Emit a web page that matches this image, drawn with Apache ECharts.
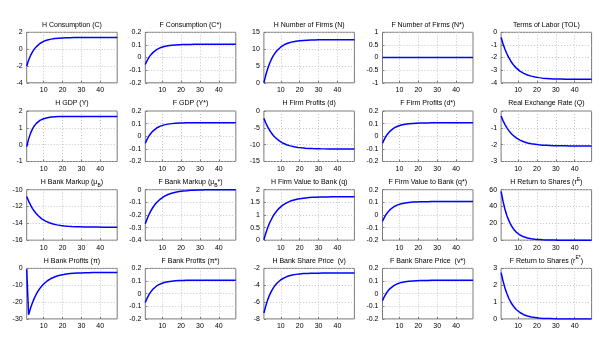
<!DOCTYPE html>
<html>
<head>
<meta charset="utf-8">
<script src="https://cdn.jsdelivr.net/npm/echarts@6/dist/echarts.min.js"></script>
<style>html,body{margin:0;padding:0;background:#fff}#c{width:600px;height:358px}</style>
</head>
<body>
<div id="c"></div>
<script>
const periods = [1,2,3,4,5,6,7,8,9,10,11,12,13,14,15,16,17,18,19,20,21,22,23,24,25,26,27,28,29,30,31,32,33,34,35,36,37,38,39,40,41,42,43,44,45,46,47,48,49];

const hC = [-2.00,-1.32,-0.78,-0.35,0.00,0.27,0.49,0.67,0.81,0.93,1.02,1.09,1.15,1.19,1.23,1.26,1.29,1.30,1.32,1.33,1.34,1.35,1.36,1.36,1.36,1.37,1.37,1.37,1.37,1.37,1.38,1.38,1.38,1.38,1.38,1.38,1.38,1.38,1.38,1.38,1.38,1.38,1.38,1.38,1.38,1.38,1.38,1.38,1.38];
const fC = [-0.055,-0.023,0.003,0.023,0.039,0.053,0.063,0.071,0.078,0.084,0.088,0.091,0.094,0.096,0.098,0.099,0.100,0.101,0.102,0.103,0.103,0.104,0.104,0.104,0.104,0.105,0.105,0.105,0.105,0.105,0.105,0.105,0.105,0.105,0.105,0.105,0.105,0.105,0.105,0.105,0.105,0.105,0.105,0.105,0.105,0.105,0.105,0.105,0.105];
const hN = [0,2.30,4.19,5.74,7.01,8.05,8.91,9.61,10.18,10.65,11.04,11.36,11.62,11.83,12.01,12.15,12.26,12.36,12.44,12.51,12.56,12.60,12.64,12.67,12.69,12.71,12.73,12.74,12.75,12.76,12.77,12.77,12.78,12.78,12.79,12.79,12.8,12.8,12.8,12.8,12.8,12.8,12.8,12.8,12.8,12.8,12.8,12.8,12.8];
const fN = [0,0,0,0,0,0,0,0,0,0,0,0,0,0,0,0,0,0,0,0,0,0,0,0,0,0,0,0,0,0,0,0,0,0,0,0,0,0,0,0,0,0,0,0,0,0,0,0,0];
const tol = [-0.40,-0.90,-1.32,-1.68,-1.99,-2.25,-2.47,-2.66,-2.82,-2.95,-3.07,-3.16,-3.25,-3.32,-3.38,-3.43,-3.47,-3.51,-3.54,-3.57,-3.59,-3.61,-3.63,-3.64,-3.65,-3.66,-3.67,-3.68,-3.69,-3.69,-3.70,-3.70,-3.70,-3.70,-3.71,-3.71,-3.71,-3.71,-3.71,-3.71,-3.72,-3.72,-3.72,-3.72,-3.72,-3.72,-3.72,-3.72,-3.72];
const hY = [-0.12,0.33,0.67,0.92,1.11,1.25,1.36,1.44,1.50,1.54,1.58,1.60,1.62,1.64,1.65,1.66,1.66,1.67,1.67,1.67,1.67,1.68,1.68,1.68,1.68,1.68,1.68,1.68,1.68,1.68,1.68,1.68,1.68,1.68,1.68,1.68,1.68,1.68,1.68,1.68,1.68,1.68,1.68,1.68,1.68,1.68,1.68,1.68,1.68];
const fY = [-0.055,-0.023,0.004,0.024,0.041,0.054,0.065,0.073,0.080,0.085,0.090,0.093,0.096,0.098,0.100,0.101,0.102,0.103,0.104,0.105,0.105,0.106,0.106,0.106,0.106,0.107,0.107,0.107,0.107,0.107,0.107,0.107,0.107,0.107,0.107,0.107,0.107,0.107,0.107,0.107,0.107,0.107,0.107,0.107,0.107,0.107,0.107,0.107,0.107];
const hD = [-2.20,-3.57,-4.73,-5.71,-6.55,-7.26,-7.87,-8.38,-8.82,-9.19,-9.51,-9.78,-10.01,-10.20,-10.36,-10.50,-10.62,-10.73,-10.81,-10.89,-10.95,-11.00,-11.05,-11.08,-11.12,-11.14,-11.17,-11.19,-11.20,-11.22,-11.23,-11.24,-11.25,-11.26,-11.26,-11.27,-11.27,-11.28,-11.28,-11.28,-11.29,-11.29,-11.29,-11.29,-11.30,-11.30,-11.30,-11.30,-11.30];
const fD = [-0.055,-0.023,0.003,0.024,0.040,0.053,0.064,0.072,0.079,0.084,0.089,0.092,0.095,0.097,0.099,0.100,0.101,0.102,0.103,0.104,0.104,0.105,0.105,0.105,0.105,0.106,0.106,0.106,0.106,0.106,0.106,0.106,0.106,0.106,0.106,0.106,0.106,0.106,0.106,0.106,0.106,0.106,0.106,0.106,0.106,0.106,0.106,0.106,0.106];
const rer = [-0.30,-0.57,-0.79,-0.99,-1.15,-1.29,-1.41,-1.51,-1.60,-1.67,-1.73,-1.78,-1.83,-1.86,-1.90,-1.92,-1.95,-1.97,-1.98,-2.00,-2.01,-2.02,-2.03,-2.04,-2.04,-2.05,-2.05,-2.06,-2.06,-2.06,-2.07,-2.07,-2.07,-2.07,-2.07,-2.08,-2.08,-2.08,-2.08,-2.08,-2.08,-2.08,-2.08,-2.08,-2.08,-2.08,-2.08,-2.08,-2.08];
const hMu = [-10.80,-11.35,-11.81,-12.21,-12.54,-12.83,-13.07,-13.28,-13.46,-13.60,-13.73,-13.84,-13.93,-14.01,-14.07,-14.13,-14.18,-14.22,-14.25,-14.28,-14.31,-14.33,-14.35,-14.36,-14.38,-14.39,-14.40,-14.40,-14.41,-14.42,-14.42,-14.43,-14.43,-14.43,-14.44,-14.44,-14.44,-14.44,-14.44,-14.45,-14.45,-14.45,-14.45,-14.45,-14.45,-14.45,-14.45,-14.45,-14.45];
const fMu = [-0.270,-0.230,-0.195,-0.166,-0.141,-0.120,-0.102,-0.087,-0.074,-0.063,-0.053,-0.045,-0.038,-0.033,-0.028,-0.024,-0.020,-0.017,-0.014,-0.012,-0.010,-0.009,-0.008,-0.006,-0.005,-0.005,-0.004,-0.003,-0.003,-0.002,-0.002,-0.002,-0.001,-0.001,-0.001,0,0,0,0,0,0,0,0,0,0,0,0,0,0];
const hQ = [0.02,0.28,0.49,0.68,0.83,0.97,1.08,1.18,1.26,1.33,1.39,1.44,1.48,1.51,1.55,1.57,1.59,1.61,1.63,1.64,1.65,1.66,1.67,1.68,1.69,1.69,1.70,1.70,1.70,1.70,1.71,1.71,1.71,1.71,1.71,1.71,1.72,1.72,1.72,1.72,1.72,1.72,1.72,1.72,1.72,1.72,1.72,1.72,1.72];
const fQ = [-0.050,-0.019,0.006,0.026,0.042,0.055,0.065,0.073,0.080,0.085,0.089,0.093,0.095,0.097,0.099,0.100,0.102,0.102,0.103,0.104,0.104,0.105,0.105,0.105,0.105,0.106,0.106,0.106,0.106,0.106,0.106,0.106,0.106,0.106,0.106,0.106,0.106,0.106,0.106,0.106,0.106,0.106,0.106,0.106,0.106,0.106,0.106,0.106,0.106];
const hRE = [58.0,46.4,37.1,29.7,23.8,19.0,15.2,12.2,9.7,7.8,6.2,5.0,4.0,3.2,2.6,2.0,1.6,1.3,1.0,0.8,0.7,0.5,0.4,0.3,0.3,0.2,0.2,0.1,0.1,0.1,0,0,0,0,0,0,0,0,0,0,0,0,0,0,0,0,0,0,0];
const hPi = [-0.5,-27.5,-23.74,-20.53,-17.81,-15.50,-13.54,-11.87,-10.45,-9.24,-8.21,-7.34,-6.60,-5.97,-5.43,-4.98,-4.59,-4.26,-3.98,-3.75,-3.54,-3.37,-3.23,-3.10,-3.00,-2.91,-2.83,-2.77,-2.71,-2.67,-2.63,-2.59,-2.56,-2.54,-2.52,-2.50,-2.49,-2.47,-2.46,-2.45,-2.45,-2.44,-2.44,-2.43,-2.43,-2.42,-2.42,-2.42,-2.41];
const fPi = [-0.070,-0.035,-0.006,0.016,0.035,0.049,0.061,0.070,0.077,0.083,0.088,0.092,0.095,0.097,0.099,0.101,0.102,0.103,0.104,0.104,0.105,0.105,0.106,0.106,0.106,0.107,0.107,0.107,0.107,0.107,0.107,0.107,0.107,0.107,0.107,0.107,0.107,0.107,0.107,0.107,0.107,0.107,0.107,0.107,0.107,0.107,0.107,0.107,0.107];
const hV = [-7.30,-6.45,-5.74,-5.17,-4.70,-4.31,-3.99,-3.73,-3.52,-3.35,-3.20,-3.09,-2.99,-2.91,-2.85,-2.79,-2.75,-2.71,-2.68,-2.66,-2.64,-2.62,-2.61,-2.60,-2.59,-2.58,-2.58,-2.57,-2.57,-2.57,-2.56,-2.56,-2.56,-2.56,-2.56,-2.55,-2.55,-2.55,-2.55,-2.55,-2.55,-2.55,-2.55,-2.55,-2.55,-2.55,-2.55,-2.55,-2.55];
const fV = [-0.055,-0.023,0.003,0.024,0.040,0.053,0.064,0.072,0.079,0.084,0.089,0.092,0.095,0.097,0.099,0.100,0.101,0.102,0.103,0.104,0.104,0.105,0.105,0.105,0.105,0.106,0.106,0.106,0.106,0.106,0.106,0.106,0.106,0.106,0.106,0.106,0.106,0.106,0.106,0.106,0.106,0.106,0.106,0.106,0.106,0.106,0.106,0.106,0.106];
const fRE = [2.75,2.26,1.85,1.52,1.24,1.02,0.84,0.69,0.56,0.46,0.38,0.31,0.25,0.21,0.17,0.14,0.11,0.09,0.08,0.06,0.05,0.04,0.03,0.03,0.02,0.02,0.02,0.01,0.01,0.01,0,0,0,0,0,0,0,0,0,0,0,0,0,0,0,0,0,0,0];

const titles = [
  'H Consumption (C)', 'F Consumption (C*)', 'H Number of Firms (N)', 'F Number of Firms (N*)', 'Terms of Labor (TOL)',
  'H GDP (Y)', 'F GDP (Y*)', 'H Firm Profits (d)', 'F Firm Profits (d*)', 'Real Exchange Rate (Q)',
  'H Bank Markup (μ{sub|B})', 'F Bank Markup (μ{sub|B}*)', 'H Firm Value to Bank (q)', 'F Firm Value to Bank (q*)', 'H Return to Shares (r{sup|E})',
  'H Bank Profits (π)', 'F Bank Profits (π*)', 'H Bank Share Price  (v)', 'F Bank Share Price  (v*)', 'F Return to Shares (r{sup|E*})'
];
const seriesData = [hC, fC, hN, fN, tol, hY, fY, hD, fD, rer, hMu, fMu, hQ, fQ, hRE, hPi, fPi, hV, fV, fRE];
// [min, max, interval]
const yRanges = [
  [-4, 2, 2], [-0.2, 0.2, 0.1], [0, 15, 5], [-1, 1, 0.5], [-4, 0, 1],
  [-1, 2, 1], [-0.2, 0.2, 0.1], [-15, 0, 5], [-0.2, 0.2, 0.1], [-3, 0, 1],
  [-16, -10, 2], [-0.4, 0, 0.1], [0, 2, 0.5], [-0.2, 0.2, 0.1], [0, 60, 20],
  [-30, 0, 10], [-0.2, 0.2, 0.1], [-8, -2, 2], [-0.2, 0.2, 0.1], [0, 3, 1]
];
const xTickEvery = 10;

const FONT = '"Liberation Sans", Arial, Helvetica, sans-serif';
const colLeft0 = 26.7, colStep = 118.6, plotW = 90.5;
const rowTop0 = 32.3, rowStep = 78.7, plotH = 50.5;
const frame = '#7a7a7a';
const tickFn = (i, v) => Number(v) % xTickEvery === 0;

const grid = [], xAxis = [], yAxis = [], series = [], title = [];
seriesData.forEach((d, k) => {
  const r = Math.floor(k / 5), c = k % 5;
  const left = colLeft0 + c * colStep, top = rowTop0 + r * rowStep;
  grid.push({ left: left, top: top, width: plotW, height: plotH, show: true, borderColor: frame, borderWidth: 1, backgroundColor: '#fff', containLabel: false });
  title.push({
    text: titles[k], left: left + plotW / 2, top: top - 13, textAlign: 'center', padding: 0,
    textStyle: { fontSize: 7, fontWeight: 'normal', color: '#000', fontFamily: FONT, lineHeight: 11,
      rich: { sub: { fontSize: 5, lineHeight: 5, verticalAlign: 'bottom', fontFamily: FONT, color: '#000' },
              sup: { fontSize: 5, lineHeight: 5, verticalAlign: 'top', fontFamily: FONT, color: '#000' } } }
  });
  xAxis.push({
    gridIndex: k, type: 'category', data: periods, boundaryGap: false, position: 'bottom',
    axisLine: { show: false, onZero: false },
    axisTick: { show: true, inside: true, length: 2, interval: tickFn, lineStyle: { color: frame } },
    axisLabel: { interval: tickFn, fontSize: 7, margin: 4, color: '#000', fontFamily: FONT },
    splitLine: { show: true, interval: tickFn, lineStyle: { color: '#c4c4c4', type: [1, 2], width: 1 } }
  });
  const yr = yRanges[k];
  yAxis.push({
    gridIndex: k, type: 'value', min: yr[0], max: yr[1], interval: yr[2],
    axisLine: { show: false },
    axisTick: { show: true, inside: true, length: 2, lineStyle: { color: frame } },
    axisLabel: { fontSize: 7, margin: 4, color: '#000', fontFamily: FONT },
    splitLine: { show: true, lineStyle: { color: '#c4c4c4', type: [1, 2], width: 1 } }
  });
  series.push({
    type: 'line', xAxisIndex: k, yAxisIndex: k, data: d, showSymbol: false, symbol: 'none',
    lineStyle: { color: '#0000ff', width: 1.5 }, silent: true
  });
});

const chart = echarts.init(document.getElementById('c'), null, { renderer: 'canvas' });
chart.setOption({ animation: false, backgroundColor: '#fff', title, grid, xAxis, yAxis, series });
</script>
</body>
</html>
